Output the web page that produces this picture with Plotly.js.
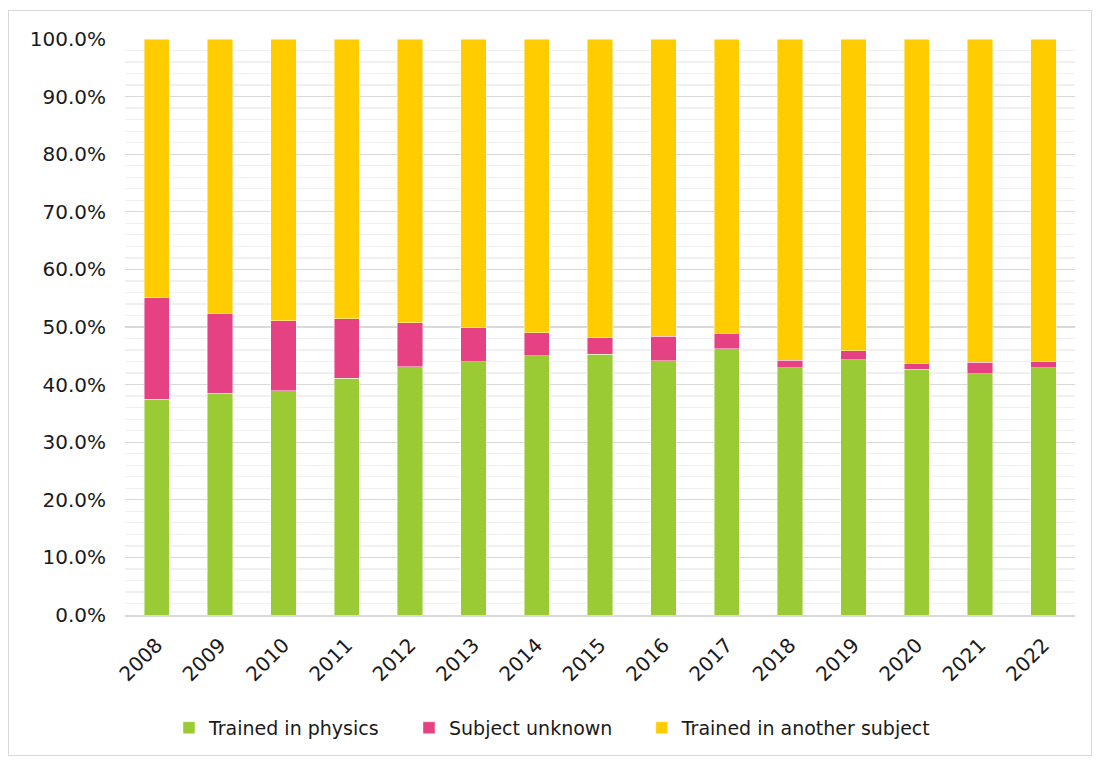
<!DOCTYPE html>
<html>
<head>
<meta charset="utf-8">
<script src="https://cdn.plot.ly/plotly-3.0.1.min.js"></script>
<style>
html,body{margin:0;padding:0;background:#fff;}
#frame{position:absolute;left:8px;top:10px;width:1084px;height:746px;border:1px solid #d9d9d9;box-sizing:border-box;}
#chart{position:absolute;left:0;top:0;width:1100px;height:760px;}
</style>
</head>
<body>
<div id="frame"></div>
<div id="chart"></div>
<script>
const years = ['2008','2009','2010','2011','2012','2013','2014','2015','2016','2017','2018','2019','2020','2021','2022'];
const trainedPhysics = [37.5, 38.5, 38.9, 41.1, 43.1, 44.0, 45.0, 45.3, 44.1, 46.2, 42.9, 44.3, 42.7, 41.9, 42.9];
const subjectUnknown = [17.6, 13.8, 12.2, 10.3, 7.6, 5.9, 4.0, 2.8, 4.3, 2.7, 1.3, 1.6, 1.0, 2.0, 1.1];
const trainedAnother = [44.9, 47.7, 48.9, 48.6, 49.3, 50.1, 51.0, 51.9, 51.6, 51.1, 55.8, 54.1, 56.3, 56.1, 56.0];

const font = {family: 'DejaVu Sans, Liberation Sans, sans-serif', size: 19, color: '#1a1a1a'};
const tickFont = {family: 'DejaVu Sans, Liberation Sans, sans-serif', size: 20, color: '#1a1a1a'};
const mk = (c) => ({color: c, line: {color: 'rgba(255,255,255,0.6)', width: 0.75}});

const data = [
  {type: 'bar', name: 'Trained in physics', x: years, y: trainedPhysics, marker: mk('#9ACB34'), legend: 'legend'},
  {type: 'bar', name: 'Subject unknown', x: years, y: subjectUnknown, marker: mk('#E64183'), legend: 'legend'},
  {type: 'bar', name: 'Trained in another subject', x: years, y: trainedAnother, marker: mk('#FFCC00'), legend: 'legend2'}
];

const legendY = -0.196;
const layout = {
  width: 1100, height: 760,
  margin: {l: 125, r: 25, t: 39, b: 145},
  paper_bgcolor: 'rgba(0,0,0,0)',
  plot_bgcolor: 'rgba(0,0,0,0)',
  barmode: 'stack',
  bargap: 0.6,
  font: font,
  showlegend: true,
  legend: {orientation: 'h', x: 0.0463, xanchor: 'left', y: legendY, yanchor: 'middle',
           font: font, traceorder: 'normal', entrywidth: 195},
  legend2: {orientation: 'h', x: 0.544, xanchor: 'left', y: legendY, yanchor: 'middle',
           font: font, traceorder: 'normal'},
  xaxis: {type: 'category', tickangle: -45, showgrid: false, zeroline: false,
          showline: true, linecolor: '#d9d9d9', linewidth: 1.5, ticks: '', tickfont: tickFont,
          ticklabelstandoff: 9, automargin: false},
  yaxis: {range: [0, 100], dtick: 10, tick0: 0, ticksuffix: '%', tickformat: '.1f',
          showgrid: true, gridcolor: '#d9d9d9', gridwidth: 1.3, zeroline: false, showline: false,
          ticks: '', tickfont: tickFont, ticklabelstandoff: 18, automargin: false,
          minor: {dtick: 2, showgrid: true, gridcolor: '#f0f0f0', gridwidth: 1.3}}
};

Plotly.newPlot('chart', data, layout, {displayModeBar: false, staticPlot: true});
</script>
</body>
</html>
